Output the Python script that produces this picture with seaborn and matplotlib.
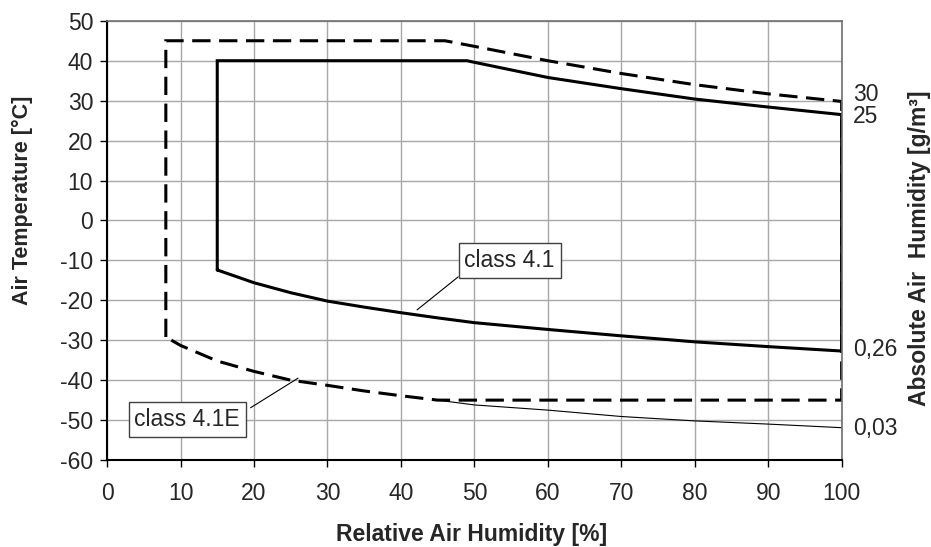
import matplotlib
matplotlib.use('Agg')
import matplotlib.pyplot as plt
import seaborn as sns

# class 4.1 climatogram (closed outline)
c41_rh = [15, 15, 49, 50, 60, 70, 80, 90, 100, 100, 90, 80, 70, 60, 50, 45, 40, 35, 30, 25, 20, 15]
c41_t = [-12.4, 40, 40, 39.6, 35.8, 33.0, 30.4, 28.4, 26.5, -32.7, -31.6, -30.4, -28.9, -27.3,
         -25.6, -24.4, -23.1, -21.7, -20.2, -18.1, -15.6, -12.4]

# class 4.1E climatogram (closed outline)
c41e_rh = [8, 8, 46, 50, 60, 70, 80, 90, 100, 100, 45, 40, 35, 30, 25, 20, 15, 10, 8]
c41e_t = [-29.2, 45, 45, 43.6, 40.0, 36.8, 34.0, 31.7, 29.8, -45, -45, -43.9, -42.7, -41.3,
          -40.0, -37.8, -35.2, -31.3, -29.2]

# 0,03 g/m3 absolute humidity curve
abs003_rh = [45, 50, 60, 70, 80, 90, 100]
abs003_t = [-45, -46.2, -47.5, -49.1, -50.2, -51.0, -51.9]

# right side labels (absolute humidity)
abs_labels = ['30', '25', '0,26', '0,03']
abs_label_t = [31.5, 26.0, -32.4, -52.1]
abs_label_rh = [101.5, 101.5, 101.5, 101.5]

sns.set_style('white')
plt.rcParams['font.family'] = ['Liberation Sans', 'DejaVu Sans']
plt.rcParams['axes.unicode_minus'] = False

fig = plt.figure(figsize=(9.31, 5.47), dpi=100)
ax = fig.add_axes([0.115, 0.159, 0.789, 0.803])

sns.lineplot(x=c41e_rh, y=c41e_t, sort=False, estimator=None, ax=ax, color='black',
             lw=2.2, linestyle=(0, (6, 2.8)), dash_capstyle='butt', dash_joinstyle='miter')
sns.lineplot(x=c41_rh, y=c41_t, sort=False, estimator=None, ax=ax, color='black',
             lw=2.2, solid_joinstyle='miter')
sns.lineplot(x=abs003_rh, y=abs003_t, sort=False, estimator=None, ax=ax, color='black', lw=0.8)

ax.set_xlim(0, 100)
ax.set_ylim(-60, 50)
ax.set_xticks(range(0, 101, 10))
ax.set_yticks(range(-60, 51, 10))
ax.grid(True, color='#a8a8a8', lw=1)
ax.set_axisbelow(True)
ax.tick_params(labelsize=16.5, direction='out', length=5, width=1, color='black',
               bottom=True, left=True, pad=5)
ax.tick_params(axis='x', pad=11)
for side in ['left', 'bottom']:
    ax.spines[side].set_color('black')
    ax.spines[side].set_linewidth(1.5)
for side in ['top', 'right']:
    ax.spines[side].set_color('#707070')
    ax.spines[side].set_linewidth(1.2)

fig.text(0.507, 0.023, 'Relative Air Humidity [%]', ha='center', va='center',
         fontsize=16.5, fontweight='bold')
fig.text(0.024, 0.634, 'Air Temperature [°C]', rotation=90, ha='center', va='center',
         fontsize=15.5, fontweight='bold')
fig.text(0.988, 0.546, 'Absolute Air  Humidity [g/m³]', rotation=90, ha='center', va='center',
         fontsize=16.5, fontweight='bold')

for lab, rh, t in zip(abs_labels, abs_label_rh, abs_label_t):
    ax.text(rh, t, lab, fontsize=16.5, ha='left', va='center', clip_on=False)

box = dict(boxstyle='square,pad=0.25', fc='white', ec='#404040', lw=1)
ax.annotate('class 4.1', xy=(42.2, -22.4), xytext=(54.8, -10), fontsize=16.5,
            ha='center', va='center', bbox=box,
            arrowprops=dict(arrowstyle='-', color='black', lw=0.8, shrinkA=0, shrinkB=0,
                            relpos=(0, 0)))
ax.annotate('class 4.1E', xy=(26, -39.5), xytext=(10.9, -49.8), fontsize=16.5,
            ha='center', va='center', bbox=box,
            arrowprops=dict(arrowstyle='-', color='black', lw=0.8, shrinkA=0, shrinkB=0,
                            relpos=(1.1, 1.0)))

plt.savefig('out.png', dpi=100)
